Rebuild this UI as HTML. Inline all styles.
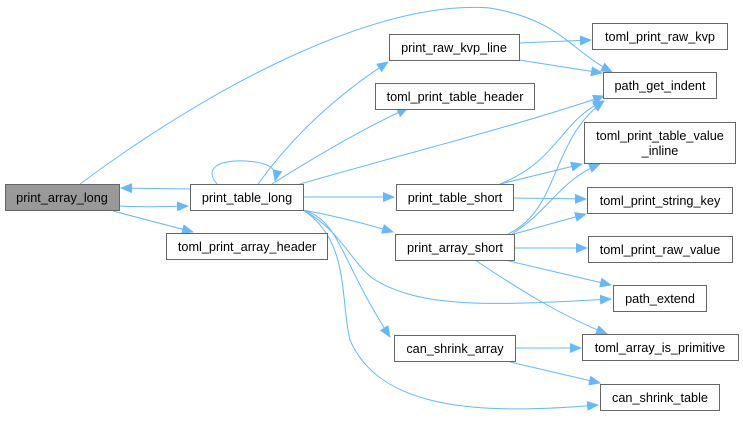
<!DOCTYPE html>
<html><head><meta charset="utf-8"><style>
body{margin:0;background:#fff;width:743px;height:422px;overflow:hidden}
svg{display:block}
text{font-family:"Liberation Sans",Helvetica,sans-serif;font-size:12.7px;fill:#000}
.n{fill:#fff;stroke:#666;stroke-width:1}
.e{fill:none;stroke:#63b8ff;stroke-width:1}
</style></head><body>
<svg width="743" height="422" viewBox="0 0 743 422">
<defs><marker id="a" markerWidth="12" markerHeight="10" refX="11" refY="5" orient="auto" markerUnits="userSpaceOnUse"><path d="M0,0 L12,5 L0,10 z" fill="#63b8ff"/></marker></defs>
<g class="e" marker-end="url(#a)">
<path d="M190,189 L121,188"/>
<path d="M119,206 C140,207 160,207 188,206"/>
<path d="M113,211 L193,232"/>
<path d="M217,184 C205,170 215,160 245,161 C268,162 278,168 275,181"/>
<path d="M258,184 C290,140 330,100 388,62"/>
<path d="M272,184 C310,160 360,130 408,108"/>
<path d="M80,184 C220,80 380,0 490,8 C560,20 570,50 612,72"/>
<path d="M300,184 C400,155 520,125 604,96"/>
<path d="M303,197 L394,197"/>
<path d="M303,210 C330,215 360,222 393,232"/>
<path d="M303,210 C340,220 340,260 390,337"/>
<path d="M303,210 C340,230 350,260 372,278 C420,310 500,305 611,299"/>
<path d="M303,210 C350,240 340,300 350,340 C380,410 480,415 598,405"/>
<path d="M519,43 L591,40"/>
<path d="M519,60 L602,73"/>
<path d="M500,184 C560,160 560,120 604,101"/>
<path d="M500,184 L582,164"/>
<path d="M513,198 L586,199"/>
<path d="M508,234 C560,210 550,140 604,101"/>
<path d="M512,234 C550,210 560,180 600,164"/>
<path d="M514,234 L586,214"/>
<path d="M514,248 L587,248"/>
<path d="M505,260 L611,285"/>
<path d="M475,260 C520,290 560,315 607,334"/>
<path d="M515,348 L581,348"/>
<path d="M510,362 L600,383"/>
</g>
<rect x="5.5" y="184.5" width="114" height="26" fill="#999" stroke="#666"/>
<text x="62" y="202" text-anchor="middle">print_array_long</text>
<rect class="n" x="190.5" y="184.5" width="113" height="26"/><text x="247" y="202" text-anchor="middle">print_table_long</text>
<rect class="n" x="166.5" y="233.5" width="161" height="26"/><text x="247" y="251" text-anchor="middle">toml_print_array_header</text>
<rect class="n" x="389.5" y="34.5" width="130" height="26"/><text x="454" y="52" text-anchor="middle">print_raw_kvp_line</text>
<rect class="n" x="375.5" y="83.5" width="159" height="26"/><text x="455" y="101" text-anchor="middle">toml_print_table_header</text>
<rect class="n" x="396.5" y="184.5" width="117" height="26"/><text x="455" y="202" text-anchor="middle">print_table_short</text>
<rect class="n" x="395.5" y="234.5" width="119" height="26"/><text x="455" y="252" text-anchor="middle">print_array_short</text>
<rect class="n" x="394.5" y="335.5" width="121" height="26"/><text x="455" y="353" text-anchor="middle">can_shrink_array</text>
<rect class="n" x="592.5" y="23.5" width="135" height="26"/><text x="660" y="41" text-anchor="middle">toml_print_raw_kvp</text>
<rect class="n" x="603.5" y="72.5" width="113" height="26"/><text x="660" y="90" text-anchor="middle">path_get_indent</text>
<rect class="n" x="584.5" y="122.5" width="151" height="41"/><text x="660" y="140" text-anchor="middle">toml_print_table_value</text><text x="660" y="155" text-anchor="middle">_inline</text>
<rect class="n" x="587.5" y="187.5" width="145" height="26"/><text x="660" y="205" text-anchor="middle">toml_print_string_key</text>
<rect class="n" x="588.5" y="236.5" width="144" height="26"/><text x="660" y="254" text-anchor="middle">toml_print_raw_value</text>
<rect class="n" x="613.5" y="285.5" width="93" height="26"/><text x="660" y="303" text-anchor="middle">path_extend</text>
<rect class="n" x="582.5" y="334.5" width="156" height="26"/><text x="660" y="352" text-anchor="middle">toml_array_is_primitive</text>
<rect class="n" x="600.5" y="384.5" width="119" height="26"/><text x="660" y="402" text-anchor="middle">can_shrink_table</text>
</svg>
</body></html>
